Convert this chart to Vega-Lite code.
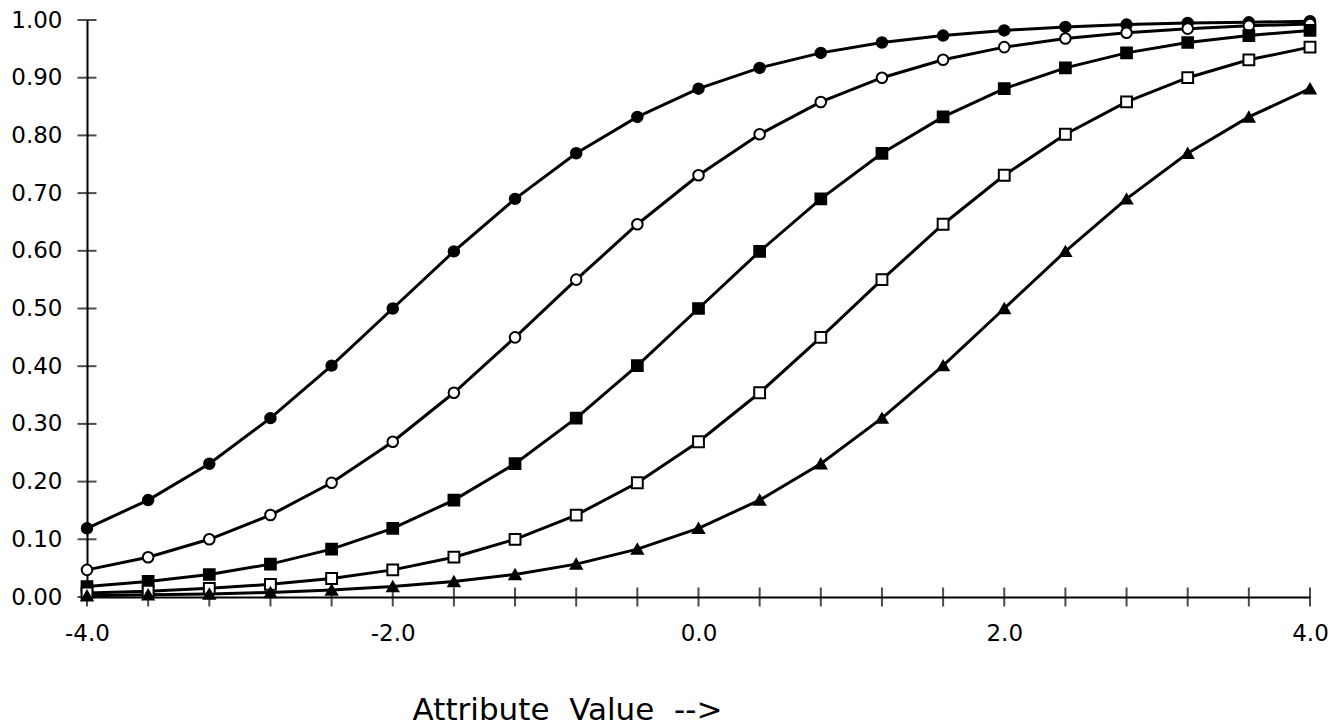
{
  "$schema": "https://vega.github.io/schema/vega-lite/v6.json",
  "width": 1223,
  "height": 577,
  "autosize": "none",
  "padding": {"left": 87, "top": 20, "right": 22, "bottom": 131},
  "background": "white",
  "config": {"view": {"stroke": null}},
  "datasets": {
    "curves": [
      {"x": -4.0, "p": 0.119, "item": "A"}, {"x": -3.6, "p": 0.168, "item": "A"}, {"x": -3.2, "p": 0.231, "item": "A"}, {"x": -2.8, "p": 0.310, "item": "A"}, {"x": -2.4, "p": 0.401, "item": "A"}, {"x": -2.0, "p": 0.500, "item": "A"}, {"x": -1.6, "p": 0.599, "item": "A"}, {"x": -1.2, "p": 0.690, "item": "A"}, {"x": -0.8, "p": 0.769, "item": "A"}, {"x": -0.4, "p": 0.832, "item": "A"}, {"x": 0.0, "p": 0.881, "item": "A"}, {"x": 0.4, "p": 0.917, "item": "A"}, {"x": 0.8, "p": 0.943, "item": "A"}, {"x": 1.2, "p": 0.961, "item": "A"}, {"x": 1.6, "p": 0.973, "item": "A"}, {"x": 2.0, "p": 0.982, "item": "A"}, {"x": 2.4, "p": 0.988, "item": "A"}, {"x": 2.8, "p": 0.992, "item": "A"}, {"x": 3.2, "p": 0.995, "item": "A"}, {"x": 3.6, "p": 0.996, "item": "A"}, {"x": 4.0, "p": 0.998, "item": "A"},
      {"x": -4.0, "p": 0.047, "item": "B"}, {"x": -3.6, "p": 0.069, "item": "B"}, {"x": -3.2, "p": 0.100, "item": "B"}, {"x": -2.8, "p": 0.142, "item": "B"}, {"x": -2.4, "p": 0.198, "item": "B"}, {"x": -2.0, "p": 0.269, "item": "B"}, {"x": -1.6, "p": 0.354, "item": "B"}, {"x": -1.2, "p": 0.450, "item": "B"}, {"x": -0.8, "p": 0.550, "item": "B"}, {"x": -0.4, "p": 0.646, "item": "B"}, {"x": 0.0, "p": 0.731, "item": "B"}, {"x": 0.4, "p": 0.802, "item": "B"}, {"x": 0.8, "p": 0.858, "item": "B"}, {"x": 1.2, "p": 0.900, "item": "B"}, {"x": 1.6, "p": 0.931, "item": "B"}, {"x": 2.0, "p": 0.953, "item": "B"}, {"x": 2.4, "p": 0.968, "item": "B"}, {"x": 2.8, "p": 0.978, "item": "B"}, {"x": 3.2, "p": 0.985, "item": "B"}, {"x": 3.6, "p": 0.990, "item": "B"}, {"x": 4.0, "p": 0.993, "item": "B"},
      {"x": -4.0, "p": 0.018, "item": "C"}, {"x": -3.6, "p": 0.027, "item": "C"}, {"x": -3.2, "p": 0.039, "item": "C"}, {"x": -2.8, "p": 0.057, "item": "C"}, {"x": -2.4, "p": 0.083, "item": "C"}, {"x": -2.0, "p": 0.119, "item": "C"}, {"x": -1.6, "p": 0.168, "item": "C"}, {"x": -1.2, "p": 0.231, "item": "C"}, {"x": -0.8, "p": 0.310, "item": "C"}, {"x": -0.4, "p": 0.401, "item": "C"}, {"x": 0.0, "p": 0.500, "item": "C"}, {"x": 0.4, "p": 0.599, "item": "C"}, {"x": 0.8, "p": 0.690, "item": "C"}, {"x": 1.2, "p": 0.769, "item": "C"}, {"x": 1.6, "p": 0.832, "item": "C"}, {"x": 2.0, "p": 0.881, "item": "C"}, {"x": 2.4, "p": 0.917, "item": "C"}, {"x": 2.8, "p": 0.943, "item": "C"}, {"x": 3.2, "p": 0.961, "item": "C"}, {"x": 3.6, "p": 0.973, "item": "C"}, {"x": 4.0, "p": 0.982, "item": "C"},
      {"x": -4.0, "p": 0.007, "item": "D"}, {"x": -3.6, "p": 0.010, "item": "D"}, {"x": -3.2, "p": 0.015, "item": "D"}, {"x": -2.8, "p": 0.022, "item": "D"}, {"x": -2.4, "p": 0.032, "item": "D"}, {"x": -2.0, "p": 0.047, "item": "D"}, {"x": -1.6, "p": 0.069, "item": "D"}, {"x": -1.2, "p": 0.100, "item": "D"}, {"x": -0.8, "p": 0.142, "item": "D"}, {"x": -0.4, "p": 0.198, "item": "D"}, {"x": 0.0, "p": 0.269, "item": "D"}, {"x": 0.4, "p": 0.354, "item": "D"}, {"x": 0.8, "p": 0.450, "item": "D"}, {"x": 1.2, "p": 0.550, "item": "D"}, {"x": 1.6, "p": 0.646, "item": "D"}, {"x": 2.0, "p": 0.731, "item": "D"}, {"x": 2.4, "p": 0.802, "item": "D"}, {"x": 2.8, "p": 0.858, "item": "D"}, {"x": 3.2, "p": 0.900, "item": "D"}, {"x": 3.6, "p": 0.931, "item": "D"}, {"x": 4.0, "p": 0.953, "item": "D"},
      {"x": -4.0, "p": 0.002, "item": "E"}, {"x": -3.6, "p": 0.004, "item": "E"}, {"x": -3.2, "p": 0.005, "item": "E"}, {"x": -2.8, "p": 0.008, "item": "E"}, {"x": -2.4, "p": 0.012, "item": "E"}, {"x": -2.0, "p": 0.018, "item": "E"}, {"x": -1.6, "p": 0.027, "item": "E"}, {"x": -1.2, "p": 0.039, "item": "E"}, {"x": -0.8, "p": 0.057, "item": "E"}, {"x": -0.4, "p": 0.083, "item": "E"}, {"x": 0.0, "p": 0.119, "item": "E"}, {"x": 0.4, "p": 0.168, "item": "E"}, {"x": 0.8, "p": 0.231, "item": "E"}, {"x": 1.2, "p": 0.310, "item": "E"}, {"x": 1.6, "p": 0.401, "item": "E"}, {"x": 2.0, "p": 0.500, "item": "E"}, {"x": 2.4, "p": 0.599, "item": "E"}, {"x": 2.8, "p": 0.690, "item": "E"}, {"x": 3.2, "p": 0.769, "item": "E"}, {"x": 3.6, "p": 0.832, "item": "E"}, {"x": 4.0, "p": 0.881, "item": "E"}
    ],
    "xticks": [
      {"x": -4.0}, {"x": -3.6}, {"x": -3.2}, {"x": -2.8}, {"x": -2.4}, {"x": -2.0}, {"x": -1.6}, {"x": -1.2}, {"x": -0.8}, {"x": -0.4}, {"x": 0.0}, {"x": 0.4}, {"x": 0.8}, {"x": 1.2}, {"x": 1.6}, {"x": 2.0}, {"x": 2.4}, {"x": 2.8}, {"x": 3.2}, {"x": 3.6}, {"x": 4.0}
    ],
    "yticks": [
      {"p": 0.0}, {"p": 0.1}, {"p": 0.2}, {"p": 0.3}, {"p": 0.4}, {"p": 0.5}, {"p": 0.6}, {"p": 0.7}, {"p": 0.8}, {"p": 0.9}, {"p": 1.0}
    ]
  },
  "layer": [
    {
      "data": {"name": "curves"},
      "mark": {"type": "line", "color": "black", "strokeWidth": 3},
      "encoding": {
        "x": {
          "field": "x", "type": "quantitative",
          "scale": {"domain": [-4, 4], "nice": false, "zero": false},
          "axis": {
            "values": [-4, -2, 0, 2, 4],
            "labelExpr": "(datum.value < 0 ? '-' : '') + format(abs(datum.value), '.1f')",
            "ticks": false, "grid": false,
            "domainColor": "black", "domainWidth": 2,
            "labelFont": "DejaVu Sans", "labelFontSize": 23, "labelColor": "black",
            "labelPadding": 25, "labelFlush": false, "labelOverlap": false,
            "title": "Attribute\u00a0\u00a0Value\u00a0\u00a0-->",
            "titleFont": "DejaVu Sans", "titleFontSize": 31, "titleFontWeight": "normal", "titleColor": "black",
            "titleX": 480, "titleY": 122, "titleAlign": "center", "titleBaseline": "alphabetic"
          }
        },
        "y": {
          "field": "p", "type": "quantitative",
          "scale": {"domain": [0, 1], "nice": false},
          "axis": {
            "values": [0, 0.1, 0.2, 0.3, 0.4, 0.5, 0.6, 0.7, 0.8, 0.9, 1.0],
            "format": ".2f",
            "ticks": false, "grid": false,
            "domainColor": "black", "domainWidth": 2,
            "labelFont": "DejaVu Sans", "labelFontSize": 23, "labelColor": "black",
            "labelPadding": 25, "labelFlush": false, "labelOverlap": false,
            "title": null
          }
        },
        "detail": {"field": "item"}
      }
    },
    {
      "data": {"name": "xticks"},
      "mark": {"type": "tick", "orient": "vertical", "color": "black", "size": 19, "thickness": 2},
      "encoding": {
        "x": {"field": "x", "type": "quantitative"},
        "y": {"datum": 0, "type": "quantitative"}
      }
    },
    {
      "data": {"name": "yticks"},
      "mark": {"type": "tick", "orient": "horizontal", "color": "black", "size": 19, "thickness": 2},
      "encoding": {
        "x": {"datum": -4, "type": "quantitative"},
        "y": {"field": "p", "type": "quantitative"}
      }
    },
    {
      "data": {"name": "curves"},
      "mark": {"type": "point", "filled": true, "stroke": "black", "strokeWidth": 2, "opacity": 1},
      "encoding": {
        "x": {"field": "x", "type": "quantitative"},
        "y": {"field": "p", "type": "quantitative"},
        "shape": {"field": "item", "type": "nominal", "legend": null,
          "scale": {"domain": ["A", "B", "C", "D", "E"], "range": ["circle", "circle", "square", "square", "triangle-up"]}},
        "fill": {"field": "item", "type": "nominal", "legend": null,
          "scale": {"domain": ["A", "B", "C", "D", "E"], "range": ["black", "white", "black", "white", "black"]}},
        "size": {"field": "item", "type": "nominal", "legend": null,
          "scale": {"domain": ["A", "B", "C", "D", "E"], "range": [110, 120, 200, 160, 150]}}
      }
    }
  ]
}
